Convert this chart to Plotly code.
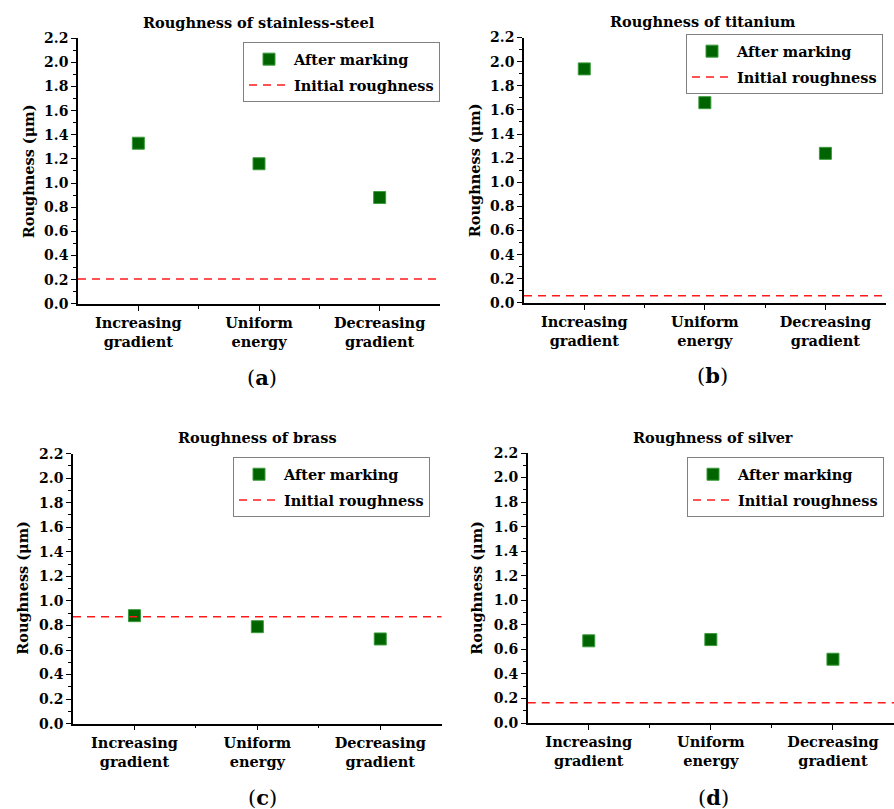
import plotly.graph_objects as go

W, H = 894, 809

categories = ["Increasing<br>gradient", "Uniform<br>energy", "Decreasing<br>gradient"]
cat_pos = [0, 1, 2]

materials = ["stainless-steel", "titanium", "brass", "silver"]
panel_letters = ["a", "b", "c", "d"]

stainless_after = [1.33, 1.16, 0.88]
titanium_after = [1.94, 1.66, 1.24]
brass_after = [0.88, 0.79, 0.69]
silver_after = [0.67, 0.68, 0.52]

stainless_err = [0.03, 0.03, 0.02]
titanium_err = [0.03, 0.03, 0.03]
brass_err = [0.03, 0.03, 0.03]
silver_err = [0.03, 0.03, 0.03]

initial_roughness = [0.205, 0.06, 0.87, 0.165]

after_values = [stainless_after, titanium_after, brass_after, silver_after]
after_errors = [stainless_err, titanium_err, brass_err, silver_err]

y_ticks = [0.0, 0.2, 0.4, 0.6, 0.8, 1.0, 1.2, 1.4, 1.6, 1.8, 2.0, 2.2]

FONT = "DejaVu Serif"

domains = [
    ((78, 440), (38, 303.5)),
    ((524, 885.7), (37.3, 302.7)),
    ((73, 441.7), (453.3, 723.3)),
    ((527.7, 894), (452.7, 722.7)),
]
legend_pos = [(243, 42), (686, 34), (233, 457), (687, 457)]
title_pos = [(258.5, 22), (703, 21), (257, 437), (713, 437)]
ytitle_pos = [(28, 171), (474, 170), (23, 587.5), (477, 587.5)]
letter_pos = [(262, 377), (712, 375), (262, 797), (713, 797)]

# calibration of the photographed page (vertical offset / scale observed)
Y_OFF, Y_SCALE = 7.8, 0.98


def px(x):
    return x / W


def py(y):
    return 1 - ((y - Y_OFF) / Y_SCALE) / H


fig = go.Figure()
annotations = []
layout_kw = {}

for i in range(4):
    n = "" if i == 0 else str(i + 1)
    xa, ya = "x" + n, "y" + n
    leg = "legend" + n
    fig.add_trace(go.Scatter(
        x=cat_pos, y=after_values[i], mode="markers", name="After marking",
        xaxis=xa, yaxis=ya, legend=leg, legendgroup="a" + n,
        marker=dict(symbol="square", size=12, color="#006400",
                    line=dict(color="#3c9a3c", width=1)),
        error_y=dict(type="data", array=after_errors[i], color="black",
                     thickness=1, width=3),
    ))
    fig.add_trace(go.Scatter(
        x=[-0.5, 2.5], y=[initial_roughness[i]] * 2, mode="lines",
        name="Initial roughness", xaxis=xa, yaxis=ya, legend=leg,
        legendgroup="b" + n,
        line=dict(color="#ff1a1a", width=1.5, dash="8px,6px"),
    ))
    (x0, x1), (yt, yb) = domains[i]
    layout_kw["xaxis" + n] = dict(
        domain=[px(x0), min(px(x1), 1.0)], anchor=ya, range=[-0.5, 2.5],
        tickvals=cat_pos, ticktext=categories, ticks="outside", ticklen=5,
        tickwidth=1.2, tickcolor="black", showline=True, linecolor="black",
        linewidth=1.5, showgrid=False, zeroline=False,
        tickfont=dict(family=FONT, size=14.5, color="black", weight="bold"),
        minor=dict(tickvals=[0.5, 1.5], ticks="outside", ticklen=3,
                   tickcolor="black", tickwidth=1),
    )
    layout_kw["yaxis" + n] = dict(
        domain=[py(yb), py(yt)], anchor=xa, range=[0, 2.2],
        tickvals=y_ticks, ticktext=[f"{v:.1f}" for v in y_ticks],
        ticks="outside", ticklen=5, tickwidth=1.2, tickcolor="black",
        showline=True, linecolor="black", linewidth=1.5, showgrid=False,
        zeroline=False,
        tickfont=dict(family=FONT, size=14, color="black", weight="bold"),
        minor=dict(dtick=0.1, tick0=0, ticks="outside", ticklen=3,
                   tickcolor="black", tickwidth=1),
    )
    lx, ly = legend_pos[i]
    layout_kw[leg] = dict(
        x=px(lx), y=py(ly), xanchor="left", yanchor="top",
        bordercolor="#808080", borderwidth=1, bgcolor="white",
        font=dict(family=FONT, size=14.5, color="black", weight="bold"),
        tracegroupgap=4, traceorder="grouped", itemwidth=40,
    )
    tx, ty = title_pos[i]
    annotations.append(dict(
        x=px(tx), y=py(ty), xref="paper", yref="paper", showarrow=False,
        text="<b>Roughness of " + materials[i] + "</b>",
        font=dict(family=FONT, size=14.5, color="black"),
        xanchor="center", yanchor="middle",
    ))
    ax, ay = ytitle_pos[i]
    annotations.append(dict(
        x=px(ax), y=py(ay), xref="paper", yref="paper", showarrow=False,
        text="<b>Roughness (μm)</b>", textangle=-90,
        font=dict(family=FONT, size=14.5, color="black"),
        xanchor="center", yanchor="middle",
    ))
    lx2, ly2 = letter_pos[i]
    annotations.append(dict(
        x=px(lx2), y=py(ly2), xref="paper", yref="paper", showarrow=False,
        text="(<b>" + panel_letters[i] + "</b>)",
        font=dict(family=FONT, size=21, color="black"),
        xanchor="center", yanchor="middle",
    ))

fig.update_layout(
    width=W, height=H, margin=dict(l=0, r=0, t=0, b=0),
    paper_bgcolor="white", plot_bgcolor="white",
    annotations=annotations, **layout_kw,
)

post = """
document.documentElement.style.margin = '0px';
document.body.style.margin = '0px';
document.body.style.overflow = 'hidden';
"""

fig.write_html("out.html", post_script=post, config={"displayModeBar": False})
